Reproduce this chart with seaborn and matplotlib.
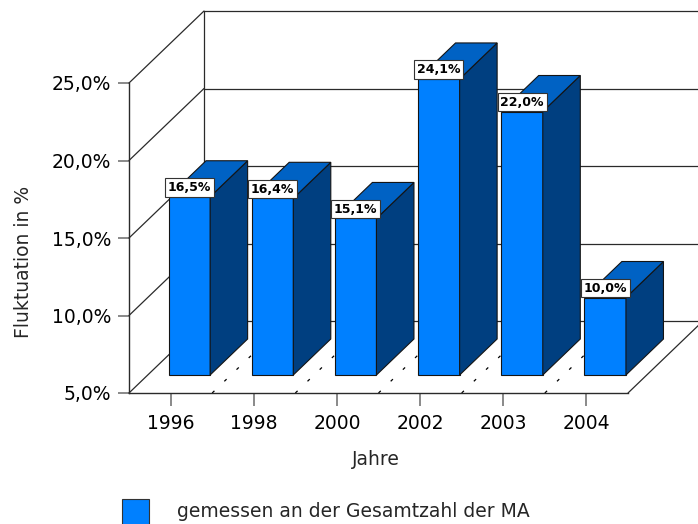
import numpy as np
import pandas as pd
import matplotlib
matplotlib.use("Agg")
import matplotlib.pyplot as plt
import seaborn as sns
from matplotlib.patches import Polygon, Rectangle

# ---- data ----
years = ["1996", "1998", "2000", "2002", "2003", "2004"]
rates = [16.5, 16.4, 15.1, 24.1, 22.0, 10.0]
bar_labels = ["16,5%", "16,4%", "15,1%", "24,1%", "22,0%", "10,0%"]
y_ticks = [5, 10, 15, 20, 25]
y_tick_labels = ["5,0%", "10,0%", "15,0%", "20,0%", "25,0%"]
x_title = "Jahre"
y_title = "Fluktuation in %"
series_name = "gemessen an der Gesamtzahl der MA"

sns.set_style("white")
plt.rcParams['font.family'] = ['DejaVu Sans']

W, H = 698, 524
fig = plt.figure(figsize=(W / 100, H / 100), dpi=100)
ax = fig.add_axes([129 / W, (H - 393) / H, 499 / W, 310 / H])
ax.set_facecolor("white")

FRONT = '#0080FF'
SIDE = '#003F80'
TOP = '#0062C4'
EDGE = '#141414'
LINE = '#2a2a2a'

BASE = y_ticks[0]
n = len(years)
DX = 75 / (499 / n)      # depth offset in category units
DY = 72 / 15.5           # depth offset in value units
d0, d1 = 0.25, 0.75      # bar depth range
BW = 0.5

df = pd.DataFrame({"Jahr": years, "Rate": rates})
sns.barplot(data=df, x="Jahr", y="Rate", color=FRONT, saturation=1,
            width=BW, ax=ax, edgecolor=EDGE, linewidth=0.8)

ax.set_xlim(-0.5, n - 0.5)
ax.set_ylim(BASE, y_ticks[-1])

# ---- walls / floor ----
lkw = dict(color=LINE, lw=0.9, clip_on=False, zorder=1)
bx = -0.5 + DX
for t in y_ticks:
    ax.plot([-0.5, bx], [t, t + DY], **lkw)
    ax.plot([bx, n - 0.5 + DX + 1], [t + DY, t + DY], **lkw)
ax.plot([bx, bx], [BASE + DY, y_ticks[-1] + DY], **lkw)
ax.plot([n - 0.5, n - 0.5 + DX], [BASE, BASE + DY], **lkw)
for k in range(1, n):
    ax.plot([k - 0.5, k - 0.5 + DX], [BASE, BASE + DY], color='black', lw=0.9,
            dashes=(2.5, 11), clip_on=False, zorder=1.5)

# ---- 3D bars ----
ddx = (d1 - d0) * DX
ddy = (d1 - d0) * DY
for i, (p, v, lab) in enumerate(zip(ax.patches, rates, bar_labels)):
    x0 = i - BW / 2 + d0 * DX
    x1 = x0 + BW
    b = BASE + d0 * DY
    top = v + d0 * DY
    p.set_x(x0)
    p.set_y(b)
    p.set_height(v - BASE)
    p.set_zorder(3)
    p.set_clip_on(False)
    side = Polygon([(x1, b), (x1 + ddx, b + ddy), (x1 + ddx, top + ddy), (x1, top)],
                   closed=True, fc=SIDE, ec=EDGE, lw=0.8, zorder=3, clip_on=False)
    topf = Polygon([(x0, top), (x1, top), (x1 + ddx, top + ddy), (x0 + ddx, top + ddy)],
                   closed=True, fc=TOP, ec=EDGE, lw=0.8, zorder=3, clip_on=False)
    ax.add_patch(side)
    ax.add_patch(topf)
    ax.annotate(lab, xy=((x0 + x1) / 2, top), xytext=(0, 2.0), textcoords='offset points',
                ha='center', va='bottom', fontsize=9, fontweight='bold', color='black',
                zorder=5, annotation_clip=False,
                bbox=dict(boxstyle='square,pad=0.22', fc='white', ec='#333333', lw=0.8))

# ---- axes styling ----
for s in ['top', 'right']:
    ax.spines[s].set_visible(False)
for s in ['left', 'bottom']:
    ax.spines[s].set_color(LINE)
    ax.spines[s].set_linewidth(1.0)
    ax.spines[s].set_zorder(2)

ax.set_yticks(y_ticks, y_tick_labels)
ax.set_xticks(range(n), years)
ax.tick_params(axis='y', length=8, width=1.3, color='#808080', pad=5, labelsize=13.5,
               labelcolor='black', left=True)
ax.tick_params(axis='x', length=9, width=1.3, color='#808080', pad=6, labelsize=13.5,
               labelcolor='black', bottom=True)
ax.set_xlabel(x_title, fontsize=13.5)
ax.set_ylabel(y_title, fontsize=13.5)
ax.xaxis.set_label_coords((376 - 129) / 499, (393 - 450) / 310)
ax.yaxis.set_label_coords((33 - 129) / 499, (393 - 262) / 310)
ax.grid(False)

# ---- legend ----
fig.add_artist(Rectangle((122 / W, (H - 528) / H), 27 / W, 29 / H, transform=fig.transFigure,
                         fc=FRONT, ec='#333333', lw=0.8))
fig.text(177 / W, (H - 517) / H, series_name, fontsize=13.5, ha='left', va='baseline')

fig.savefig("out.png", dpi=100)
